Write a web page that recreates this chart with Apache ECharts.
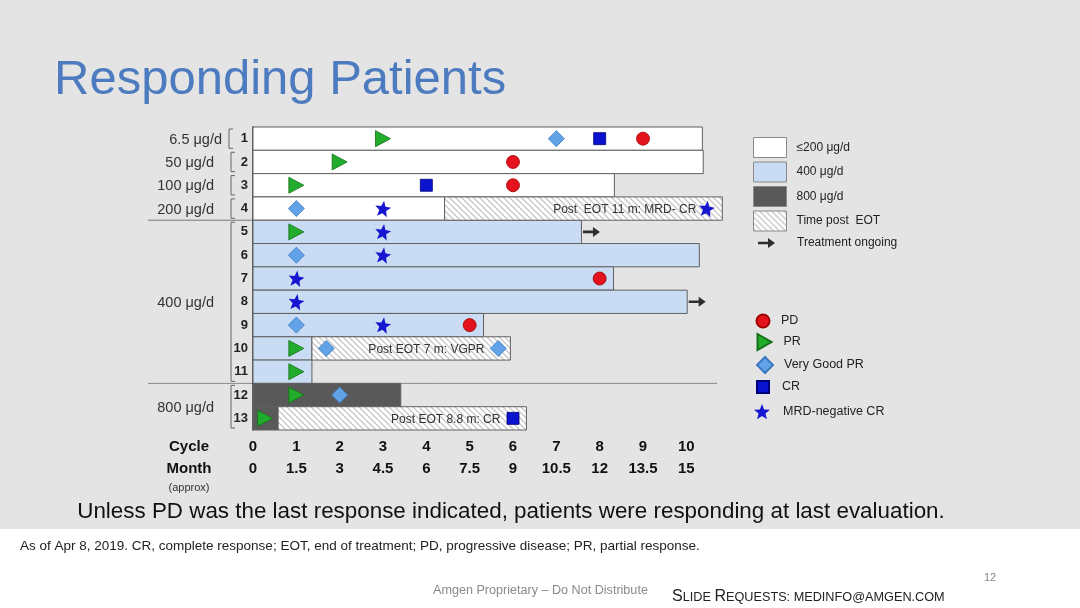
<!DOCTYPE html>
<html><head><meta charset="utf-8">
<script src="https://cdn.jsdelivr.net/npm/echarts@6/dist/echarts.min.js"></script>
<style>html,body{margin:0;padding:0;background:#fff}#c{width:1080px;height:608px}</style>
</head><body><div id="c"></div>
<script>
// ---------- data ----------
const PATIENTS = ['1','2','3','4','5','6','7','8','9','10','11','12','13'];
const DOSE_GROUP = ['≤200','≤200','≤200','≤200','400','400','400','400','400','400','400','800','800'];
const TREATMENT_END = [10.37,10.39,8.34,4.42,7.58,10.30,8.32,10.02,5.32,1.36,1.36,3.41,0.58];
const POST_EOT_ROWS = ['4','10','13'];
const POST_EOT_END = [10.83,5.94,6.31];
const POST_EOT_TEXT = ['Post  EOT 11 m: MRD- CR','Post EOT 7 m: VGPR','Post EOT 8.8 m: CR'];
const ONGOING_ROWS = ['5','8'];
const PD_PTS = [[9,'1'],[6,'2'],[6,'3'],[8,'7'],[5,'9']];
const PR_PTS = [[3,'1'],[2,'2'],[1,'3'],[1,'5'],[1,'10'],[1,'11'],[1,'12'],[0.28,'13']];
const VGPR_PTS = [[7,'1'],[1,'4'],[1,'6'],[1,'9'],[1.69,'10'],[5.66,'10'],[2,'12']];
const CR_PTS = [[8,'1'],[4,'3'],[6,'13']];
const MRD_PTS = [[3,'4'],[10.47,'4'],[3,'5'],[3,'6'],[1,'7'],[1,'8'],[3,'9']];
const CYCLE_TICKS = [0,1,2,3,4,5,6,7,8,9,10];
const MONTH_LABELS = ['0','1.5','3','4.5','6','7.5','9','10.5','12','13.5','15'];
const DOSE_LABELS = ['6.5 μg/d','50 μg/d','100 μg/d','200 μg/d','400 μg/d','800 μg/d'];
const DOSE_LABEL_ROWS = [['1','1'],['2','2'],['3','3'],['4','4'],['5','11'],['12','13']];

// ---------- styling ----------
const FONT = 'Liberation Sans, Arial, sans-serif';
const tile = document.createElement('canvas'); tile.width = 6; tile.height = 6;
(function(){const g = tile.getContext('2d'); g.fillStyle = '#ffffff'; g.fillRect(0,0,6,6);
 g.strokeStyle = '#c6c6c6'; g.lineWidth = 1.3; g.beginPath();
 g.moveTo(-1,-1); g.lineTo(7,7); g.moveTo(-1,5); g.lineTo(1,7); g.moveTo(5,-1); g.lineTo(7,1); g.stroke();})();
const HATCH = {image: tile, repeat: 'repeat'};
const FILL = {'≤200':'#ffffff','400':'#c9dcf3','800':'#595959'};
const STAR = (function(){let d='';for(let i=0;i<10;i++){const r=i%2?4.3:10;const a=-Math.PI/2+i*Math.PI/5;d+=(i?'L':'M')+(10+r*Math.cos(a)).toFixed(2)+','+(10+r*Math.sin(a)).toFixed(2);}return 'path://'+d+'Z';})();
const TRI = 'path://M0,0L14,8L0,16Z';
const ARROW = 'path://M0,3.7L10,3.7L10,0L17,5L10,10L10,6.3L0,6.3Z';

function barSeries(name, data, fill){
  return {type:'custom', name, data, encode:{x:[0,1], y:2}, clip:false, z:2,
    itemStyle:{color:fill, borderColor:'#606060', borderWidth:1},
    renderItem(params, api){
      const s = api.coord([api.value(0), api.value(2)]);
      const e = api.coord([api.value(1), api.value(2)]);
      const h = api.size([0,1])[1];
      const ch = [{type:'rect', shape:{x:s[0], y:s[1]-h/2, width:e[0]-s[0], height:h},
        style:{fill:fill, stroke:'#606060', lineWidth:1}}];
      const lab = data[params.dataIndex][3];
      if (lab) ch.push({type:'text', z2:5, style:{text:lab, x:e[0]-26, y:s[1]+1, align:'right', verticalAlign:'middle', font:'12px '+FONT, fill:'#333'}});
      return {type:'group', children:ch};
    }};
}
function groupData(g){const o=[];PATIENTS.forEach((p,i)=>{if(DOSE_GROUP[i]===g)o.push([0,TREATMENT_END[i],p]);});return o;}
const postData = POST_EOT_ROWS.map((r,k)=>[TREATMENT_END[PATIENTS.indexOf(r)], POST_EOT_END[k], r, POST_EOT_TEXT[k]]);
const ongoingData = ONGOING_ROWS.map(r=>[TREATMENT_END[PATIENTS.indexOf(r)], r]);

// marker legend layout: name, centre x, centre y, icon w, icon h, text x
const MARKER_LEGEND = [['PD',762,320,13,13,780],['PR',764,341,15,16,783],['Very Good PR',764,364,16,16,783],['CR',762,386,12,12,781],['MRD-negative CR',762,412,16,16,783]];
const markerLegends = MARKER_LEGEND.map(m=>({orient:'vertical', padding:0, left:m[1]-m[3]/2, top:m[2]-m[4]/2, itemWidth:m[3], itemHeight:m[4], selectedMode:false,
  textStyle:{fontSize:12.5, color:'#222', padding:[0,0,0,m[5]-(m[1]+m[3]/2)-5], fontFamily:FONT}, data:[m[0]]}));

const chart = echarts.init(document.getElementById('c'));
const GRID = {left:253, top:127, right:372, bottom:178};
const option = {
  backgroundColor:'#e4e4e4',
  animation:false,
  textStyle:{fontFamily:FONT},
  grid:GRID,
  xAxis:[{type:'value', min:0, max:10.5, position:'bottom',
     axisLine:{lineStyle:{color:'#222', width:1.5}},
     axisTick:{customValues:CYCLE_TICKS, length:5, lineStyle:{color:'#222', width:1.2}},
     splitLine:{show:false},
     axisLabel:{customValues:CYCLE_TICKS, margin:6,
       formatter:(v)=>'{c|'+v+'}\n{m|'+MONTH_LABELS[CYCLE_TICKS.indexOf(v)]+'}',
       rich:{c:{fontSize:15, fontWeight:'bold', color:'#111', lineHeight:22, fontFamily:FONT},
             m:{fontSize:15, fontWeight:'bold', color:'#111', lineHeight:22, fontFamily:FONT}}}},
    {type:'value', min:0, max:10.5, position:'top',
     axisLine:{lineStyle:{color:'#222', width:2}}, axisTick:{show:false}, axisLabel:{show:false}, splitLine:{show:false}}],
  yAxis:{type:'category', data:PATIENTS, inverse:true,
    axisLine:{lineStyle:{color:'#333', width:1.5}},
    axisTick:{alignWithLabel:true, length:4, lineStyle:{color:'#333'}},
    axisLabel:{fontSize:13, fontWeight:'bold', color:'#222', margin:5, fontFamily:FONT}},
  legend:[
    {orient:'vertical', padding:0, left:753, top:137, itemWidth:33, itemHeight:20, itemGap:3.5, selectedMode:false,
     textStyle:{fontSize:12, color:'#222', padding:[0,0,0,5], fontFamily:FONT},
     data:[{name:'≤200 μg/d', icon:'rect', itemStyle:{color:FILL['≤200'], borderColor:'#888', borderWidth:1}},
           {name:'400 μg/d', icon:'rect', itemStyle:{color:FILL['400'], borderColor:'#888', borderWidth:1}},
           {name:'800 μg/d', icon:'rect', itemStyle:{color:FILL['800'], borderColor:'#888', borderWidth:1}},
           {name:'Time post  EOT', icon:'rect', itemStyle:{color:HATCH, borderColor:'#888', borderWidth:1}}]},
    {orient:'vertical', padding:0, left:758, top:237, itemWidth:17, itemHeight:10, selectedMode:false,
     textStyle:{fontSize:12, color:'#222', padding:[0,0,0,17], fontFamily:FONT},
     data:[{name:'Treatment ongoing', icon:ARROW, itemStyle:{color:'#000'}}]}
  ].concat(markerLegends),
  series:[
    barSeries('≤200 μg/d', groupData('≤200'), FILL['≤200']),
    barSeries('400 μg/d', groupData('400'), FILL['400']),
    barSeries('800 μg/d', groupData('800'), FILL['800']),
    barSeries('Time post  EOT', postData, HATCH),
    {type:'scatter', name:'Treatment ongoing', data:ongoingData, symbol:ARROW, symbolSize:[17,10], symbolOffset:[10,0], itemStyle:{color:'#000'}, z:5},
    {type:'scatter', name:'PD', data:PD_PTS, symbol:'circle', symbolSize:13, itemStyle:{color:'#e3121c', borderColor:'#a00000', borderWidth:0.8, opacity:1}, z:6},
    {type:'scatter', name:'PR', data:PR_PTS, symbol:TRI, symbolSize:[15,16], itemStyle:{color:'#22ac2c', borderColor:'#137018', borderWidth:0.8, opacity:1}, z:6},
    {type:'scatter', name:'Very Good PR', data:VGPR_PTS, symbol:'diamond', symbolSize:[16,16], itemStyle:{color:'#62a2e6', borderColor:'#3a78c0', borderWidth:0.8, opacity:1}, z:6},
    {type:'scatter', name:'CR', data:CR_PTS, symbol:'rect', symbolSize:12, itemStyle:{color:'#0a14cf', borderColor:'#00007a', borderWidth:0.8, opacity:1}, z:6},
    {type:'scatter', name:'MRD-negative CR', data:MRD_PTS, symbol:STAR, symbolSize:16, symbolRotate:-8, itemStyle:{color:'#1616d2', opacity:1}, z:6}
  ]
};
chart.setOption(option);

// ---------- annotations positioned from the axes ----------
const yc = r => chart.convertToPixel({yAxisIndex:0}, PATIENTS.indexOf(r));
const half = (yc('2') - yc('1')) / 2;
const gr = [];
gr.push({type:'rect', z:-10, shape:{x:0, y:529, width:1080, height:79}, style:{fill:'#ffffff'}});
gr.push({type:'text', style:{text:'Responding Patients', x:54, y:80, verticalAlign:'middle', font:'49px '+FONT, fill:'#4d7bc0'}});
DOSE_LABEL_ROWS.forEach((pr,k)=>{
  const a = yc(pr[0]), b = yc(pr[1]);
  gr.push({type:'text', style:{text:DOSE_LABELS[k], x:k===0?222:214, y:(a+b)/2+1, align:'right', verticalAlign:'middle', font:'14.5px '+FONT, fill:'#333'}});
  const x = k===0?229:231;
  gr.push({type:'polyline', shape:{points:[[x+4,a-half+2],[x,a-half+2],[x,b+half-2],[x+4,b+half-2]]}, style:{stroke:'#666', lineWidth:1, fill:null}});
});
const s1 = (yc('4')+yc('5'))/2, s2 = (yc('11')+yc('12'))/2;
gr.push({type:'line', shape:{x1:148, y1:s1, x2:GRID.left, y2:s1}, style:{stroke:'#777', lineWidth:1}});
gr.push({type:'line', shape:{x1:148, y1:s2, x2:717, y2:s2}, style:{stroke:'#888', lineWidth:1}});
gr.push({type:'text', style:{text:'Cycle', x:189, y:447, align:'center', verticalAlign:'middle', font:'bold 15px '+FONT, fill:'#111'}});
gr.push({type:'text', style:{text:'Month', x:189, y:469, align:'center', verticalAlign:'middle', font:'bold 15px '+FONT, fill:'#111'}});
gr.push({type:'text', style:{text:'(approx)', x:189, y:488, align:'center', verticalAlign:'middle', font:'11px '+FONT, fill:'#333'}});
gr.push({type:'text', style:{text:'Unless PD was the last response indicated, patients were responding at last evaluation.', x:511, y:512, align:'center', verticalAlign:'middle', font:'22.4px '+FONT, fill:'#111'}});
gr.push({type:'text', style:{text:'As of Apr 8, 2019. CR, complete response; EOT, end of treatment; PD, progressive disease; PR, partial response.', x:20, y:546, verticalAlign:'middle', font:'13.5px '+FONT, fill:'#222'}});
gr.push({type:'text', style:{text:'12', x:990, y:578, align:'center', verticalAlign:'middle', font:'11px '+FONT, fill:'#888'}});
gr.push({type:'text', style:{text:'Amgen Proprietary – Do Not Distribute', x:433, y:591, verticalAlign:'middle', font:'12.6px '+FONT, fill:'#8a8a8a'}});
gr.push({type:'text', style:{text:'{b|S}{s|LIDE }{b|R}{s|EQUESTS: MEDINFO@AMGEN.COM}', x:672, y:597, verticalAlign:'middle',
  rich:{b:{fontSize:16, fontFamily:FONT, fill:'#222'}, s:{fontSize:12.7, fontFamily:FONT, fill:'#222'}}}});
chart.setOption({graphic:{elements:gr}});
</script></body></html>
